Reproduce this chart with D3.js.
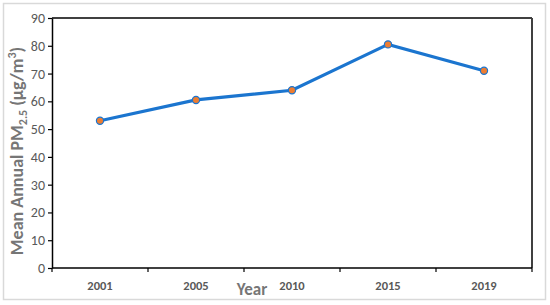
<!DOCTYPE html>
<html>
<head>
<meta charset="utf-8">
<script src="https://cdn.jsdelivr.net/npm/d3@7"></script>
<style>
  body { margin: 0; background: #fff; }
  text { font-family: Calibri, Carlito, "Open Sans", sans-serif; }
</style>
</head>
<body>
<div id="chart"></div>
<script>
var years = ["2001", "2005", "2010", "2015", "2019"];
var pm25 = [53, 60.5, 64, 80.5, 71];
var yTicks = [0, 10, 20, 30, 40, 50, 60, 70, 80, 90];

var svg = d3.select("#chart").append("svg").attr("width", 550).attr("height", 305),
    margin = {top: 18, right: 18, bottom: 37, left: 52},
    width = 550 - margin.left - margin.right,
    height = 305 - margin.top - margin.bottom;

// outer chart frame
svg.append("rect")
    .attr("x", 3.5).attr("y", 3.5)
    .attr("width", 542).attr("height", 296)
    .attr("fill", "#fff")
    .attr("stroke", "#d9d9d9")
    .attr("stroke-width", 1.5);

var g = svg.append("g").attr("transform", "translate(" + margin.left + "," + margin.top + ")");

var x = d3.scaleBand().domain(years).range([0, width]);
var y = d3.scaleLinear().domain([0, 90]).range([height, 0]);

// top and right frame of plot
g.append("line").attr("x1", 0).attr("x2", width).attr("y1", 0).attr("y2", 0)
    .attr("stroke", "#000").attr("stroke-width", 1.5);
g.append("line").attr("x1", width).attr("x2", width).attr("y1", 0).attr("y2", height)
    .attr("stroke", "#404040").attr("stroke-width", 2);

// y axis
var yAxis = g.append("g")
    .call(d3.axisLeft(y).tickValues(yTicks).tickSize(4).tickSizeOuter(0));
yAxis.select(".domain").attr("stroke", "#000").attr("stroke-width", 1.5);
yAxis.selectAll(".tick line").attr("stroke", "#000").attr("stroke-width", 1.2);
yAxis.selectAll(".tick text")
    .attr("font-size", 14)
    .attr("fill", "#595959")
    .attr("x", -7);

// x axis with ticks at band boundaries
var xAxis = g.append("g").attr("transform", "translate(0," + height + ")");
xAxis.append("line").attr("x1", 0).attr("x2", width)
    .attr("stroke", "#000").attr("stroke-width", 1.5);
xAxis.selectAll(".xtick")
    .data(years.concat(["end"]))
    .enter().append("line")
    .attr("class", "xtick")
    .attr("x1", function(d, i) { return i * x.step(); })
    .attr("x2", function(d, i) { return i * x.step(); })
    .attr("y1", 0).attr("y2", 4)
    .attr("stroke", "#000").attr("stroke-width", 1.2);
xAxis.selectAll(".xlabel")
    .data(years)
    .enter().append("text")
    .attr("class", "xlabel")
    .attr("x", function(d) { return x(d) + x.bandwidth() / 2; })
    .attr("y", 22)
    .attr("text-anchor", "middle")
    .attr("font-size", 12.5)
    .attr("font-weight", "bold")
    .attr("fill", "#595959")
    .text(function(d) { return d; });

// axis titles
svg.append("text")
    .attr("x", 252).attr("y", 295)
    .attr("text-anchor", "middle")
    .attr("font-size", 17)
    .attr("font-weight", "bold")
    .attr("fill", "#767676")
    .text("Year");

var yt = svg.append("text")
    .attr("transform", "translate(23," + (margin.top + height / 2 + 8) + ") rotate(-90)")
    .attr("text-anchor", "middle")
    .attr("font-size", 18)
    .attr("font-weight", "bold")
    .attr("fill", "#767676");
yt.append("tspan").text("Mean Annual PM");
yt.append("tspan").attr("font-size", 12).attr("dy", 4).text("2.5");
yt.append("tspan").attr("dy", -4).text("  (\u00b5g/m");
yt.append("tspan").attr("font-size", 12).attr("dy", -7).text("3");
yt.append("tspan").attr("dy", 7).text(")");

// line
var line = d3.line()
    .x(function(d, i) { return x(years[i]) + x.bandwidth() / 2; })
    .y(function(d) { return y(d); });

g.append("path")
    .datum(pm25)
    .attr("fill", "none")
    .attr("stroke", "#1b75cf")
    .attr("stroke-width", 3.2)
    .attr("d", line);

g.selectAll(".dot")
    .data(pm25)
    .enter().append("circle")
    .attr("class", "dot")
    .attr("cx", function(d, i) { return x(years[i]) + x.bandwidth() / 2; })
    .attr("cy", function(d) { return y(d); })
    .attr("r", 3.6)
    .attr("fill", "#ed7d31")
    .attr("stroke", "#1b75cf")
    .attr("stroke-width", 1.2);
</script>
</body>
</html>
